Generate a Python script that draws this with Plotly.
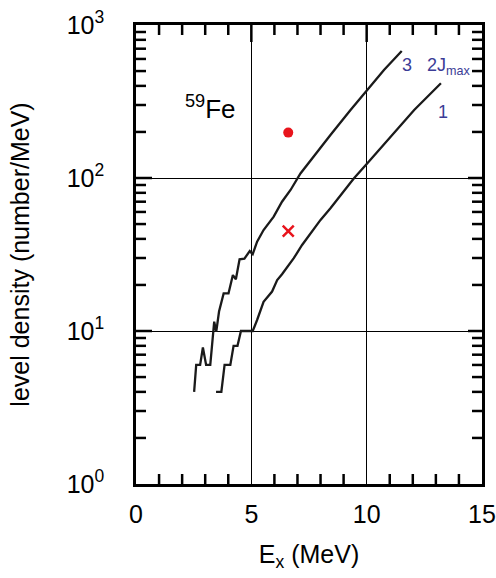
import math
import plotly.graph_objects as go

# Level density curves for 59Fe (2J_max = 3 and 1)
ex_j3 = [2.52, 2.61, 2.78, 2.90, 3.04, 3.22, 3.39, 3.48, 3.60, 3.80, 4.01, 4.20, 4.33,
         4.49, 4.70, 4.93, 5.06, 5.25, 5.53, 5.97, 6.33, 6.70, 7.13, 7.64, 8.43, 9.30,
         10.03, 10.75, 11.52]
rho_j3 = [4.0, 6.0, 6.0, 7.8, 6.0, 6.0, 11.5, 9.9, 13.4, 17.6, 17.6, 23.2, 21.8,
          29.4, 29.7, 33.3, 31.8, 38.4, 45.7, 55.9, 70, 83.5, 107, 135, 191, 278,
          376, 508, 676]

ex_j1 = [3.47, 3.70, 3.84, 4.09, 4.23, 4.40, 4.55, 5.06, 5.25, 5.53, 5.90, 6.12, 6.33,
         6.84, 7.20, 7.57, 8.00, 8.43, 9.45, 10.03, 10.90, 12.06, 13.22]
rho_j1 = [4.0, 4.0, 6.0, 6.0, 8.0, 8.0, 10.0, 10.0, 11.8, 15.5, 18.1, 21.5, 23.5,
          29.9, 36.5, 43.5, 53.2, 63.4, 99.5, 125, 177, 278, 416]

# Single-point values
dot_ex, dot_rho = [6.6], [198]
cross_ex, cross_rho = [6.6], [45]

x_range = [0, 15]
y_log_range = [0, 3]
x_major = [0, 5, 10, 15]
x_inner_major = [5, 10]
x_minor = [v for v in range(1, 15) if v not in (5, 10)]
y_major = [1, 10, 100, 1000]
y_major_text = ["10<sup>0</sup>", "10<sup>1</sup>", "10<sup>2</sup>", "10<sup>3</sup>"]
y_inner_major = [10, 100]
y_minor = [m * 10 ** d for d in range(3) for m in range(2, 10)]

FONT = "Liberation Sans, Arial, Helvetica, sans-serif"
LABEL_BLUE = "#3b3c96"
RED = "#e8141c"

W, H = 496, 578
MARGIN = dict(l=136, r=14, t=25, b=94)
plot_w = W - MARGIN["l"] - MARGIN["r"]
plot_h = H - MARGIN["t"] - MARGIN["b"]

fig = go.Figure()
fig.add_trace(go.Scatter(x=ex_j3, y=rho_j3, mode="lines",
                         line=dict(color="#1a1a1a", width=2.3), showlegend=False))
fig.add_trace(go.Scatter(x=ex_j1, y=rho_j1, mode="lines",
                         line=dict(color="#1a1a1a", width=2.3), showlegend=False))
fig.add_trace(go.Scatter(x=dot_ex, y=dot_rho, mode="markers",
                         marker=dict(color=RED, size=10, symbol="circle"),
                         showlegend=False))
fig.add_trace(go.Scatter(x=cross_ex, y=cross_rho, mode="markers",
                         marker=dict(color=RED, size=11, symbol="x-thin",
                                     line=dict(color=RED, width=2.5)),
                         showlegend=False))

fig.add_annotation(x=3.25, y=2.46, text="<sup>59</sup>Fe", showarrow=False,
                   font=dict(family=FONT, size=26, color="black"))
fig.add_annotation(x=11.74, y=2.74, text="3", showarrow=False,
                   font=dict(family=FONT, size=18, color=LABEL_BLUE))
fig.add_annotation(x=13.55, y=2.73, text="2J<sub>max</sub>", showarrow=False,
                   font=dict(family=FONT, size=18, color=LABEL_BLUE))
fig.add_annotation(x=13.3, y=2.43, text="1", showarrow=False,
                   font=dict(family=FONT, size=18, color=LABEL_BLUE))

# Inward tick marks on all four frame sides, placed in plot-fraction units
tick_line = dict(color="black", width=2.5)
MINOR_LEN = 10


def x_frac(v):
    return (v - x_range[0]) / (x_range[1] - x_range[0])


def y_frac(v):
    return (math.log10(v) - y_log_range[0]) / (y_log_range[1] - y_log_range[0])


def x_tick(v, edge, length_px):
    # edge 0 = bottom frame, 1 = top frame
    xf = x_frac(v)
    dy = length_px / plot_h
    y1 = dy if edge == 0 else 1 - dy
    fig.add_shape(type="line", xref="paper", yref="paper", layer="above",
                  x0=xf, x1=xf, y0=edge, y1=y1, line=tick_line)


def y_tick(v, edge, length_px):
    # edge 0 = left frame, 1 = right frame
    yf = y_frac(v)
    dx = length_px / plot_w
    x1 = dx if edge == 0 else 1 - dx
    fig.add_shape(type="line", xref="paper", yref="paper", layer="above",
                  x0=edge, x1=x1, y0=yf, y1=yf, line=tick_line)


for v in x_minor:
    x_tick(v, 0, MINOR_LEN)
    x_tick(v, 1, MINOR_LEN)
for v in x_inner_major:
    x_tick(v, 1, 17)
for v in y_minor:
    y_tick(v, 0, MINOR_LEN)
    y_tick(v, 1, MINOR_LEN)
for v in y_inner_major:
    y_tick(v, 0, 16)
    y_tick(v, 1, 14)

fig.update_layout(
    width=W, height=H,
    margin=MARGIN,
    paper_bgcolor="white", plot_bgcolor="white",
    font=dict(family=FONT, size=25, color="black"),
    xaxis=dict(range=x_range, automargin=False, showline=True, linecolor="black",
               linewidth=2.5, mirror=True, zeroline=False,
               tickmode="array", tickvals=x_major, ticks="",
               showgrid=True, gridcolor="black", gridwidth=1.3,
               tickfont=dict(size=25), ticklabelstandoff=6,
               title=dict(text="E<sub>x</sub> (MeV)", font=dict(size=25), standoff=19)),
    yaxis=dict(type="log", range=y_log_range, automargin=False, showline=True,
               linecolor="black", linewidth=2.5, mirror=True, zeroline=False,
               tickmode="array", tickvals=y_major, ticktext=y_major_text, ticks="",
               showgrid=True, gridcolor="black", gridwidth=1.3,
               tickfont=dict(size=25), ticklabelstandoff=24,
               title=dict(text="level density (number/MeV)", font=dict(size=25),
                          standoff=30)),
)

fig.write_html("out.html")
